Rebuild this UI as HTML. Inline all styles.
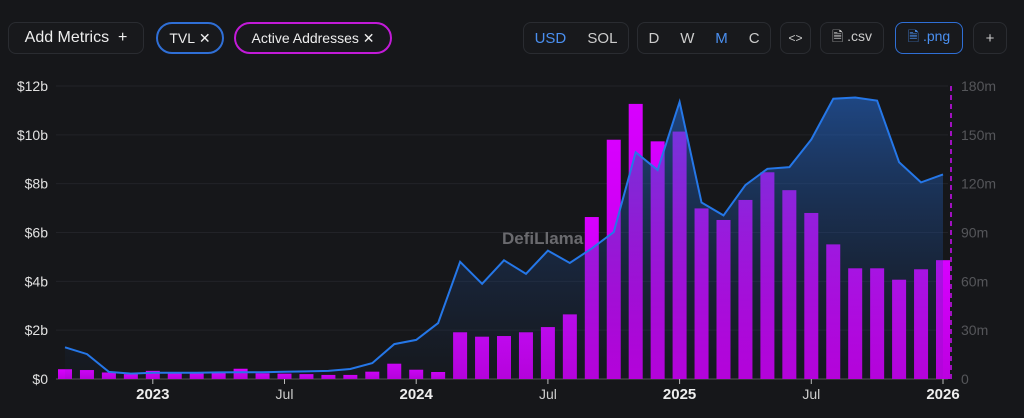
<!DOCTYPE html>
<html><head><meta charset="utf-8"><style>
body{margin:0;background:#16171a;width:1024px;height:418px;overflow:hidden;font-family:"Liberation Sans",sans-serif;color:#ddd}
.btn{position:absolute;top:22px;height:32px;box-sizing:border-box;border:1px solid #2a2c31;border-radius:8px;display:flex;align-items:center;justify-content:center;font-size:15px;color:#ccc;background:#18191c}
.pill{border-radius:16px;border-width:2px}
</style></head><body>
<div class="btn" style="left:8px;width:136px;font-size:16px;color:#eee">Add Metrics&nbsp;&nbsp;+</div>
<div class="btn pill" style="left:156px;width:68px;border-color:#2f6fd6;color:#eee;font-size:14px">TVL&nbsp;✕</div>
<div class="btn pill" style="left:234px;width:158px;border-color:#c21ad8;color:#eee;font-size:14px">Active Addresses&nbsp;✕</div>
<div class="btn" style="left:523px;width:106px;justify-content:space-around"><span style="color:#4a8ff0">USD</span><span>SOL</span></div>
<div class="btn" style="left:637px;width:134px;justify-content:space-around"><span>D</span><span>W</span><span style="color:#4a8ff0">M</span><span>C</span></div>
<div class="btn" style="left:780px;width:31px;font-size:12px">&lt;&gt;</div>
<div class="btn" style="left:820px;width:64px;font-size:14px">🗎 .csv</div>
<div class="btn" style="left:895px;width:68px;border-color:#2f6fd6;color:#4a8ff0;font-size:14px">🗎 .png</div>
<div class="btn" style="left:973px;width:34px">+</div>
<svg id="chart" width="1024" height="418" style="position:absolute;left:0;top:0">
<defs>
<linearGradient id="area" x1="0" y1="0" x2="0" y2="1"><stop offset="0" stop-color="#2466c8" stop-opacity="0.6"/><stop offset="1" stop-color="#1a3a70" stop-opacity="0.05"/></linearGradient>
<linearGradient id="bar" x1="0" y1="0" x2="0" y2="1"><stop offset="0" stop-color="#d800ff"/><stop offset="1" stop-color="#bc00e0"/></linearGradient>
</defs>
<g id="grid"></g><g id="bars"></g><g id="areaG"></g><g id="axes"></g>
<text x="502" y="244" fill="#6a6a6e" font-size="17" font-weight="bold">DefiLlama</text>
</svg>
<script>
const startYear=2022,startMonth=8; // Sep 2022
const addresses=[6,5.5,4,3,5,3.7,3.7,3.7,6.3,3.5,3.3,3,2.5,2.5,4.5,9.4,5.7,4.3,28.7,26,26.4,28.7,31.9,39.7,99.5,147,169,146,152,104.8,97.7,110,127,116,102,82.7,68,68,61,67.4,73];
const tvl=[1.30,1.02,0.29,0.22,0.26,0.26,0.26,0.27,0.28,0.28,0.30,0.31,0.33,0.41,0.65,1.43,1.6,2.29,4.8,3.9,4.86,4.31,5.26,4.75,5.35,6.02,9.29,8.56,11.35,7.23,6.7,7.94,8.61,8.68,9.81,11.48,11.53,11.4,8.88,8.05,8.38];
const leftTicks=[0,2,4,6,8,10,12];
const rightTicks=[0,30,60,90,120,150,180];
const xTicks=[{i:4,t:"2023",b:1},{i:10,t:"Jul",b:0},{i:16,t:"2024",b:1},{i:22,t:"Jul",b:0},{i:28,t:"2025",b:1},{i:34,t:"Jul",b:0},{i:40,t:"2026",b:1}];
const X0=65,STEP=21.95,Y0=379,H=293;
const x=i=>X0+i*STEP;
const yL=v=>Y0-v/12*H;
const yR=v=>Y0-v/180*H;
const NS="http://www.w3.org/2000/svg";
function mk(tag,attrs,parent){const e=document.createElementNS(NS,tag);for(const k in attrs)e.setAttribute(k,attrs[k]);document.getElementById(parent).appendChild(e);return e;}
leftTicks.forEach(v=>{
 const g=mk('line',{x1:56,x2:948,y1:yL(v),y2:yL(v),stroke:v?'#222328':'#555',"stroke-width":1},'grid');
 
 
 const t=mk('text',{x:48,y:yL(v)+5,"text-anchor":"end",fill:"#e0e0e0","font-size":14},'axes');t.textContent='$'+v+(v?'b':'');
 
 
});
rightTicks.forEach(v=>{
 const t=mk('text',{x:961,y:yR(v)+5,fill:"#55565a","font-size":14},'axes');t.textContent=v?v+'m':'0';
 
 
});
const dl=mk('line',{x1:951,x2:951,y1:86,y2:Y0,stroke:"#a010c0","stroke-dasharray":"5,4","stroke-width":2},'axes');


xTicks.forEach(o=>{
 const l=mk('line',{x1:x(o.i),x2:x(o.i),y1:Y0,y2:Y0+5,stroke:"#bbb"},'axes');
 
 
 const t=mk('text',{x:x(o.i),y:Y0+20,"text-anchor":"middle",fill:o.b?"#eee":"#ccc","font-size":o.b?15:14,"font-weight":o.b?"bold":"normal"},'axes');t.textContent=o.t;
 
 
});
addresses.forEach((v,i)=>{
 const b=mk('rect',{x:x(i)-7,y:yR(v),width:14,height:Y0-yR(v),fill:"url(#bar)"},'bars');
 
 
});
let d=tvl.map((v,i)=>(i?'L':'M')+x(i).toFixed(1)+','+yL(v).toFixed(1)).join(' ');
const a=mk('path',{d:d+` L${x(tvl.length-1)},${Y0} L${x(0)},${Y0} Z`,fill:"url(#area)"},'areaG');


const ln=mk('path',{d:d,fill:"none",stroke:"#2577e8","stroke-width":2},'areaG');


</script>
</body></html>
